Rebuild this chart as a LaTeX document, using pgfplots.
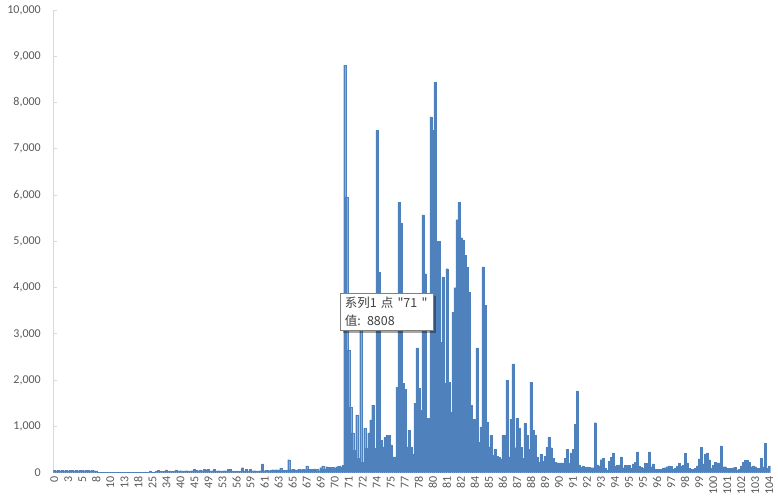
\documentclass[border=0pt]{standalone}
\usepackage{fontspec}
\setmainfont{Carlito}
\newfontfamily\cjk{Noto Sans CJK SC}
\usepackage{pgfplots}
\pgfplotsset{compat=1.18}
\usetikzlibrary{shadows}

\definecolor{barblue}{HTML}{4F81BD}
\definecolor{axgray}{HTML}{D9D9D9}
\definecolor{lblgray}{HTML}{595959}
\definecolor{tipborder}{HTML}{7F7F7F}
\definecolor{tiptext}{HTML}{404040}

\begin{document}
\begin{tikzpicture}
\useasboundingbox (-53.3pt,-28.3pt) rectangle (724.7pt,472.7pt);
\begin{axis}[
    at={(0,0)}, anchor=south west,
    scale only axis,
    width=717pt, height=462.7pt,
    ybar, bar width=1,
    xmin=-0.5, xmax=357.5,
    ymin=0, ymax=10000,
    enlargelimits=false,
    scaled y ticks=false,
    axis lines*=left,
    axis line style={draw=axgray, line width=0.8pt},
    ytick={0,1000,...,10000},
    tick align=inside,
    major tick length=4pt,
    ytick style={draw=axgray, line width=0.8pt},
    xtick={0,7,...,357},
    xtick style={draw=none},
    xticklabels={0,3,5,8,10,13,18,25,34,40,45,49,53,56,59,61,63,65,67,69,70,71,72,74,75,77,78,80,81,82,84,85,86,87,88,89,90,91,92,93,94,95,95,96,97,98,99,100,101,102,103,104},
    xticklabel style={rotate=90, anchor=east, font=\fontsize{12}{12}\selectfont, text=lblgray},
    yticklabel style={font=\fontsize{12}{12}\selectfont, text=lblgray, xshift=-9pt},
    /pgf/number format/.cd, 1000 sep={,}, assume math mode=true,
]
\addplot[fill=barblue, draw=barblue, line width=0.2pt] coordinates {
(0,50)(1,45)(2,48)(3,45)(4,50)(5,45)(6,47)(7,45)(8,50)(9,48)
(10,45)(11,50)(12,45)(13,48)(14,50)(15,45)(16,47)(17,50)(18,45)(19,48)
(20,45)(21,40)(22,12)(23,12)(24,12)(25,12)(26,12)(27,12)(28,12)(29,12)
(30,12)(31,12)(32,12)(33,12)(34,12)(35,12)(36,12)(37,12)(38,12)(39,12)
(40,12)(41,12)(42,12)(43,12)(44,12)(45,12)(46,12)(47,12)(48,40)(49,15)
(50,15)(51,30)(52,50)(53,30)(54,35)(55,30)(56,60)(57,35)(58,40)(59,35)
(60,40)(61,60)(62,40)(63,45)(64,40)(65,40)(66,45)(67,40)(68,40)(69,45)
(70,70)(71,50)(72,45)(73,50)(74,45)(75,70)(76,65)(77,70)(78,40)(79,45)
(80,70)(81,40)(82,45)(83,40)(84,40)(85,45)(86,40)(87,70)(88,70)(89,40)
(90,35)(91,40)(92,35)(93,40)(94,110)(95,40)(96,70)(97,40)(98,70)(99,40)
(100,45)(101,40)(102,40)(103,45)(104,190)(105,45)(106,50)(107,45)(108,50)(109,65)
(110,60)(111,65)(112,60)(113,100)(114,50)(115,55)(116,50)(117,280)(118,65)(119,70)
(120,65)(121,60)(122,70)(123,65)(124,70)(125,65)(126,150)(127,75)(128,80)(129,75)
(130,85)(131,80)(132,45)(133,110)(134,150)(135,75)(136,130)(137,120)(138,115)(139,120)
(140,90)(141,130)(142,150)(143,120)(144,160)(145,8808)(146,5960)(147,2650)(148,1420)(149,860)
(150,490)(151,1250)(152,310)(153,3300)(154,230)(155,960)(156,530)(157,860)(158,1140)(159,1460)
(160,530)(161,7400)(162,4330)(163,700)(164,560)(165,770)(166,810)(167,810)(168,600)(169,340)
(170,340)(171,1850)(172,5850)(173,5400)(174,1930)(175,1800)(176,560)(177,920)(178,560)(179,400)
(180,1500)(181,2700)(182,1830)(183,1350)(184,5570)(185,4300)(186,1180)(187,1180)(188,7690)(189,7400)
(190,8440)(191,5000)(192,5000)(193,2820)(194,4230)(195,1930)(196,4410)(197,1950)(198,1310)(199,3470)
(200,4000)(201,5470)(202,5850)(203,5080)(204,5030)(205,4700)(206,4440)(207,3900)(208,1460)(209,1160)
(210,1160)(211,2700)(212,660)(213,990)(214,4450)(215,3620)(216,1100)(217,560)(218,810)(219,380)
(220,510)(221,360)(222,330)(223,300)(224,810)(225,810)(226,2000)(227,340)(228,1160)(229,2350)
(230,540)(231,1180)(232,960)(233,550)(234,310)(235,1070)(236,810)(237,510)(238,1950)(239,920)
(240,810)(241,340)(242,230)(243,400)(244,250)(245,360)(246,550)(247,770)(248,540)(249,310)
(250,230)(251,210)(252,210)(253,210)(254,210)(255,310)(256,510)(257,210)(258,430)(259,510)
(260,1050)(261,1770)(262,170)(263,120)(264,150)(265,120)(266,120)(267,120)(268,110)(269,110)
(270,1080)(271,170)(272,150)(273,280)(274,310)(275,100)(276,60)(277,250)(278,330)(279,430)
(280,150)(281,160)(282,170)(283,340)(284,110)(285,160)(286,160)(287,160)(288,100)(289,190)
(290,230)(291,450)(292,150)(293,120)(294,100)(295,200)(296,200)(297,450)(298,130)(299,190)
(300,80)(301,70)(302,70)(303,70)(304,100)(305,110)(306,130)(307,150)(308,140)(309,80)
(310,100)(311,140)(312,200)(313,140)(314,160)(315,420)(316,210)(317,100)(318,70)(319,70)
(320,90)(321,150)(322,300)(323,550)(324,190)(325,400)(326,430)(327,280)(328,100)(329,160)
(330,230)(331,210)(332,210)(333,580)(334,130)(335,130)(336,100)(337,100)(338,100)(339,110)
(340,120)(341,60)(342,80)(343,150)(344,230)(345,270)(346,270)(347,230)(348,130)(349,150)
(350,130)(351,100)(352,100)(353,310)(354,130)(355,640)(356,100)(357,150)
};
\node[draw=tipborder, fill=white, line width=0.8pt, anchor=north west,
      inner xsep=4.5pt, inner ysep=0pt, minimum width=93pt, minimum height=37pt,
      text width=84pt, align=left, text=tiptext,
      font=\cjk\fontsize{12.5}{18}\selectfont,
      drop shadow={shadow xshift=3pt, shadow yshift=-3pt, fill=black, opacity=0.35}]
      at (axis cs:142.6,3884) {系列1 点 "71 "\\值: 8808};
\end{axis}
\end{tikzpicture}
\end{document}
